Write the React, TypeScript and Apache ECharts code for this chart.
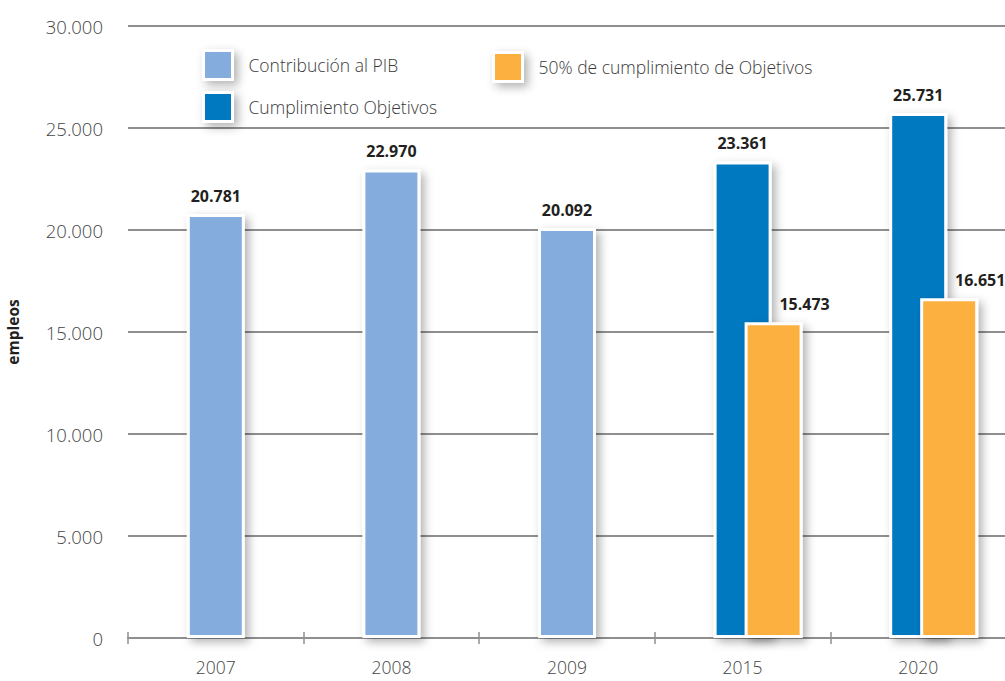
import React, { useEffect, useRef } from "react";
import * as echarts from "echarts";

const categories = ["2007", "2008", "2009", "2015", "2020"];
const contribucionPIB = [20781, 22970, 20092, "-", "-"];
const cumplimientoObjetivos = ["-", "-", "-", 23361, 25731];
const mitadObjetivos = ["-", "-", "-", 15473, 16651];
const yTicks = [0, 5000, 10000, 15000, 20000, 25000, 30000];

const NAME_PIB = "Contribución al PIB";
const NAME_CUMP = "Cumplimiento Objetivos";
const NAME_MITAD = "50% de cumplimiento de Objetivos";

const C_LIGHT = "#84ACDD";
const C_DARK = "#0079C1";
const C_ORANGE = "#FBB040";
const GRID = "#8f8f8f";
const FONT = "'Open Sans', 'Noto Sans', sans-serif";

const fmt = (v: any) =>
  String(v).replace(/\B(?=(\d{3})+(?!\d))/g, ".");

const barShadow = {
  borderColor: "#ffffff",
  borderWidth: 3,
  shadowBlur: 10,
  shadowColor: "rgba(0,0,0,0.3)",
  shadowOffsetX: 4,
  shadowOffsetY: 4,
};

const labelBase = {
  show: true,
  position: "top" as const,
  distance: 10,
  fontFamily: FONT,
  fontSize: 16,
  fontWeight: "bold" as const,
  color: "#231F20",
  formatter: (p: any) => fmt(p.value),
};

const legendBase = (name: string, left: number, top: number, color: string) => ({
  data: [name],
  left,
  top,
  padding: 0,
  orient: "horizontal" as const,
  itemWidth: 29,
  itemHeight: 29,
  selectedMode: false,
  icon: "rect",
  itemStyle: {
    color,
    borderColor: "#ffffff",
    borderWidth: 3,
    shadowBlur: 10,
    shadowColor: "rgba(0,0,0,0.3)",
    shadowOffsetX: 4,
    shadowOffsetY: 4,
  },
  textStyle: {
    fontFamily: FONT,
    fontSize: 17.5,
    fontWeight: 300 as any,
    color: "#3a3a3a",
    padding: [0, 0, 0, 11],
  },
});

export default function App() {
  const ref = useRef<HTMLDivElement>(null);
  useEffect(() => {
    if (!ref.current) return;
    const chart = echarts.init(ref.current, undefined, { renderer: "svg" });
    chart.setOption({
      animation: false,
      backgroundColor: "#ffffff",
      legend: [
        legendBase(NAME_PIB, 202, 49, C_LIGHT),
        legendBase(NAME_MITAD, 492, 51, C_ORANGE),
        legendBase(NAME_CUMP, 202, 91, C_DARK),
      ],
      grid: {
        left: 128,
        top: 26,
        width: 878,
        height: 612,
        outerBoundsMode: "none",
        containLabel: false,
      },
      xAxis: [
        {
          type: "category",
          data: categories,
          position: "bottom",
          axisLine: { show: true, lineStyle: { color: GRID, width: 2 } },
          axisTick: { show: true, inside: true, length: 6, lineStyle: { color: GRID, width: 1.5 } },
          axisLabel: { fontFamily: FONT, fontSize: 17.5, fontWeight: 300, color: "#444", margin: 20 },
          splitLine: { show: false },
        },
        {
          type: "category",
          data: categories,
          position: "bottom",
          axisLine: { show: false },
          axisTick: { show: true, inside: false, length: 6, lineStyle: { color: GRID, width: 1.5 } },
          axisLabel: { show: false },
          splitLine: { show: false },
        },
      ],
      yAxis: {
        type: "value",
        min: 0,
        max: 30000,
        interval: 5000,
        name: "empleos",
        nameLocation: "middle",
        nameGap: 107,
        nameTextStyle: { fontFamily: FONT, fontSize: 15.5, fontWeight: "bold", color: "#231F20" },
        axisLine: { show: false },
        axisTick: { show: false },
        axisLabel: {
          fontFamily: FONT,
          fontSize: 18.5,
          fontWeight: 300,
          color: "#444",
          margin: 25,
          formatter: (v: number) => (yTicks.includes(v) ? fmt(v) : ""),
        },
        splitLine: { show: true, lineStyle: { color: GRID, width: 2 } },
      },
      series: [
        {
          name: NAME_PIB,
          type: "bar",
          xAxisIndex: 0,
          stack: "main",
          barWidth: 58,
          data: contribucionPIB,
          itemStyle: { color: C_LIGHT, ...barShadow },
          label: labelBase,
        },
        {
          name: NAME_CUMP,
          type: "bar",
          xAxisIndex: 0,
          stack: "main",
          barWidth: 58,
          data: cumplimientoObjetivos,
          itemStyle: { color: C_DARK, ...barShadow },
          label: labelBase,
        },
        {
          name: "_offset",
          type: "bar",
          xAxisIndex: 1,
          barWidth: 58,
          barGap: "6.9%",
          data: categories.map(() => "-"),
          itemStyle: { color: "transparent" },
          silent: true,
        },
        {
          name: NAME_MITAD,
          type: "bar",
          xAxisIndex: 1,
          barWidth: 58,
          barGap: "6.9%",
          data: mitadObjetivos,
          itemStyle: { color: C_ORANGE, ...barShadow },
          label: { ...labelBase, offset: [31, 0] },
        },
      ],
    });
    return () => chart.dispose();
  }, []);
  return (
    <div
      ref={ref}
      style={{ position: "absolute", left: 0, top: 0, width: 1005, height: 681 }}
    />
  );
}
